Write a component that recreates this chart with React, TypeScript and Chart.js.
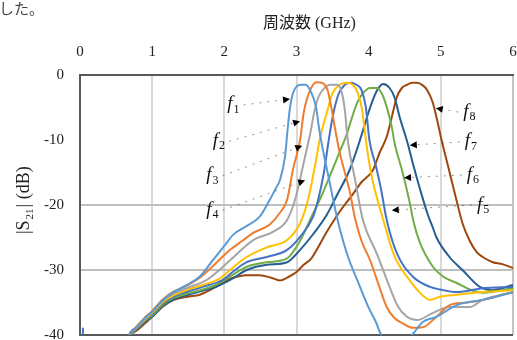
import React, { useEffect, useRef } from "react";
import { Chart, registerables } from "chart.js";

Chart.register(...registerables);

// Frequency axis ticks (GHz) and |S21| axis ticks (dB)
const freqTicks = [0, 1, 2, 3, 4, 5, 6];
const dbTicks = [0, -10, -20, -30, -40];

const seriesNames = ["1", "2", "3", "4", "5", "6", "7", "8"];
const seriesColors = ["#5B9BD5", "#ED7D31", "#A5A5A5", "#FFC000", "#4472C4", "#70AD47", "#255E91", "#9E480E"];

// f1
const f1Freq = [0.68, 0.8, 0.9, 1.0, 1.15, 1.3, 1.5, 1.66, 1.84, 2.0, 2.12, 2.3, 2.49, 2.63, 2.72, 2.77, 2.84, 2.88, 2.91, 2.95, 3.0, 3.05, 3.13, 3.2, 3.27, 3.31, 3.34, 3.45, 3.57, 3.7, 3.88, 4.0, 4.1, 4.16, 4.25, 4.45, 4.6, 4.75, 4.94, 5.22, 5.58, 6.0];
const f1Db = [-40, -38.6, -37.4, -36.4, -34.6, -33.4, -32.2, -31, -28.5, -26.3, -24.6, -23.3, -21.8, -19.2, -17.3, -16.2, -12.6, -8, -5, -2.8, -1.8, -1.5, -1.5, -2.6, -4.9, -8, -10, -16, -22.3, -27.5, -32.6, -35.8, -38, -39.7, -41, -41.5, -40, -38, -37.2, -35.4, -34.6, -33.4];

// f2
const f2Freq = [0.68, 0.8, 0.9, 1.0, 1.15, 1.3, 1.5, 1.66, 1.85, 2.08, 2.25, 2.4, 2.63, 2.77, 2.87, 2.95, 3.05, 3.1, 3.19, 3.28, 3.37, 3.43, 3.49, 3.53, 3.6, 3.67, 3.74, 3.81, 3.9, 4.02, 4.13, 4.25, 4.35, 4.47, 4.61, 4.75, 4.94, 5.12, 5.35, 5.58, 6.0];
const f2Db = [-40, -38.5, -37.3, -36.3, -34.5, -33.3, -32.3, -31.2, -29.3, -26.9, -25.5, -24.3, -23, -21.2, -19.2, -14.6, -10, -5.8, -2.3, -1.1, -1.3, -2.3, -5.4, -8, -12, -15, -18, -22, -25.5, -28.5, -32, -35.7, -37.3, -38.2, -38.9, -38.8, -37.2, -35.4, -35, -34.6, -33.4];

// f3
const f3Freq = [0.68, 0.8, 0.9, 1.0, 1.15, 1.3, 1.5, 1.76, 2.08, 2.4, 2.68, 2.87, 2.98, 3.05, 3.12, 3.19, 3.25, 3.3, 3.37, 3.47, 3.57, 3.63, 3.67, 3.71, 3.81, 3.92, 4.11, 4.29, 4.4, 4.53, 4.67, 4.89, 5.12, 5.4, 5.58, 6.0];
const f3Db = [-40, -38.6, -37.4, -36.4, -34.7, -33.6, -32.7, -31.5, -28.5, -25.4, -24.1, -22.3, -19.2, -16, -12.5, -9, -5.5, -3.5, -2.2, -1.5, -1.5, -2.8, -5.4, -10, -16, -22.3, -27.4, -32.6, -35.5, -37.2, -37.7, -36.6, -35.7, -35.7, -34.6, -33.4];

// f4
const f4Freq = [0.68, 0.8, 0.9, 1.0, 1.15, 1.3, 1.5, 1.7, 1.94, 2.1, 2.31, 2.59, 2.87, 3.05, 3.16, 3.23, 3.28, 3.32, 3.42, 3.5, 3.6, 3.7, 3.78, 3.85, 3.91, 3.95, 4.0, 4.06, 4.13, 4.22, 4.34, 4.45, 4.53, 4.67, 4.85, 4.99, 5.22, 5.58, 6.0];
const f4Db = [-40, -38.7, -37.6, -36.6, -34.9, -33.9, -33, -32.3, -31.3, -29.8, -28, -26.5, -25.4, -22.8, -19.2, -15.5, -12.5, -10, -5.8, -2.8, -1.5, -1.2, -1.5, -2.8, -5.4, -9, -13, -16.5, -19.5, -23, -27.4, -29.8, -31, -33, -34.6, -34.1, -33.8, -33.4, -33.1];

// f5
const f5Freq = [0.04, 0.045, 0.6, 0.68, 0.8, 0.9, 1.0, 1.15, 1.3, 1.5, 1.7, 1.98, 2.15, 2.31, 2.59, 2.87, 3.05, 3.23, 3.3, 3.38, 3.44, 3.5, 3.58, 3.66, 3.75, 3.83, 3.9, 3.96, 4.01, 4.1, 4.17, 4.25, 4.39, 4.61, 4.85, 4.99, 5.22, 5.58, 6.0];
const f5Db = [-38.9, -44, -44, -40, -38.8, -37.7, -36.8, -35.1, -34.1, -33.3, -32.6, -31.5, -30, -28.8, -28, -26.9, -24.9, -21.8, -19.2, -15, -10.5, -6.5, -3, -1.6, -1.2, -1.5, -2.3, -4.9, -10, -14, -17.5, -22.3, -27.4, -31, -32.6, -33, -33.4, -32.8, -32.6];

// f6
const f6Freq = [0.68, 0.8, 0.9, 1.0, 1.15, 1.3, 1.5, 1.7, 1.9, 2.08, 2.31, 2.59, 2.87, 3.05, 3.2, 3.35, 3.5, 3.6, 3.7, 3.77, 3.84, 3.92, 4.02, 4.11, 4.18, 4.25, 4.32, 4.36, 4.47, 4.57, 4.62, 4.71, 4.89, 5.03, 5.22, 5.4, 5.58, 6.0];
const f6Db = [-40, -38.9, -37.8, -37, -35.3, -34.3, -33.6, -33, -32.2, -31, -29.5, -28.8, -28.2, -25.5, -22, -18.5, -14.5, -11.8, -9, -6.5, -4.3, -2.8, -2, -2, -2.8, -4.9, -8, -10.5, -15, -19.7, -22.5, -25.8, -29.5, -31, -32, -33, -33.5, -32.8];

// f7
const f7Freq = [0.68, 0.8, 0.9, 1.0, 1.15, 1.3, 1.5, 1.7, 1.9, 2.1, 2.31, 2.59, 2.87, 3.05, 3.23, 3.42, 3.56, 3.74, 3.88, 4.02, 4.11, 4.2, 4.29, 4.36, 4.43, 4.54, 4.61, 4.71, 4.82, 4.89, 4.94, 5.12, 5.3, 5.54, 5.72, 6.0];
const f7Db = [-40, -39, -38, -37.2, -35.5, -34.5, -33.8, -33.2, -32.5, -31.4, -30, -29.2, -28.8, -26.9, -24.5, -21.5, -18.5, -14.5, -10, -5, -2.5, -1.4, -2, -3.5, -6.5, -10.5, -13.5, -17.5, -21.5, -23.5, -25, -28, -30, -32.6, -33.1, -32.3];

// f8
const f8Freq = [0.68, 0.8, 0.9, 1.0, 1.15, 1.3, 1.5, 1.66, 1.85, 2.0, 2.12, 2.3, 2.49, 2.65, 2.77, 2.9, 3.0, 3.1, 3.2, 3.3, 3.4, 3.5, 3.6, 3.75, 3.9, 4.06, 4.15, 4.25, 4.32, 4.39, 4.46, 4.53, 4.6, 4.67, 4.75, 4.81, 4.89, 4.95, 5.01, 5.1, 5.2, 5.3, 5.4, 5.5, 5.58, 5.72, 5.85, 6.0];
const f8Db = [-40, -39.2, -38.2, -37.2, -35.6, -34.6, -34.1, -33.8, -32.8, -31.8, -31.2, -30.8, -30.8, -31.2, -31.6, -31, -30.3, -29.2, -28.3, -26.5, -24.5, -22.7, -21, -18.8, -16.5, -14.6, -12, -9.5, -6.5, -3.4, -2.0, -1.5, -1.2, -1.2, -1.6, -2.3, -4.3, -7, -10, -14, -18.5, -22.8, -25.5, -27.3, -28, -28.8, -29.1, -29.7];

const seriesFreq = [f1Freq, f2Freq, f3Freq, f4Freq, f5Freq, f6Freq, f7Freq, f8Freq];
const seriesDb = [f1Db, f2Db, f3Db, f4Db, f5Db, f6Db, f7Db, f8Db];

// Callout labels: label position and arrow tip, in (GHz, dB)
const calloutLabelFreq = [2.04, 1.84, 1.75, 1.75, 5.5, 5.36, 5.33, 5.31];
const calloutLabelDb = [-4.6, -10.2, -15.5, -20.8, -20.0, -15.4, -10.3, -5.7];
const calloutTipFreq = [2.91, 3.05, 3.08, 3.12, 4.32, 4.49, 4.57, 4.93];
const calloutTipDb = [-3.7, -7.1, -10.9, -16.2, -20.8, -15.8, -10.8, -5.1];

const noteText = "した。";
const xTitleMain = "周波数";
const xTitleUnit = " (GHz)";
const yTitleHead = "|S";
const yTitleSub = "21";
const yTitleTail = "| (dB)";

const serif = '"Liberation Serif", "Times New Roman", serif';
const cjk = '"Noto Sans CJK JP", "Noto Sans CJK SC", sans-serif';

const overlayPlugin = {
  id: "overlay",
  afterDraw(chart: any) {
    const ctx = chart.ctx as CanvasRenderingContext2D;
    const xs = chart.scales.x;
    const ys = chart.scales.y;
    ctx.save();

    // sentence fragment above the figure
    ctx.fillStyle = "#444";
    ctx.font = `15px ${cjk}`;
    ctx.textAlign = "right";
    ctx.textBaseline = "middle";
    ctx.fillText(noteText, 44, 8);

    // frequency axis title
    ctx.fillStyle = "#222";
    ctx.textAlign = "left";
    ctx.textBaseline = "alphabetic";
    ctx.font = `16px ${cjk}`;
    const tx = 263;
    ctx.fillText(xTitleMain, tx, 28);
    const w1 = ctx.measureText(xTitleMain).width;
    ctx.font = `16px ${serif}`;
    ctx.fillText(xTitleUnit, tx + w1, 28);

    // |S21| axis title, rotated
    ctx.save();
    ctx.translate(29, 234);
    ctx.rotate(-Math.PI / 2);
    ctx.font = `18px ${serif}`;
    ctx.fillText(yTitleHead, 0, 0);
    let px = ctx.measureText(yTitleHead).width;
    ctx.font = `11px ${serif}`;
    ctx.fillText(yTitleSub, px + 1, 4);
    px += ctx.measureText(yTitleSub).width + 2;
    ctx.font = `18px ${serif}`;
    ctx.fillText(yTitleTail, px, 0);
    ctx.restore();

    // callouts
    for (let i = 0; i < seriesNames.length; i++) {
      const lx = xs.getPixelForValue(calloutLabelFreq[i]);
      const ly = ys.getPixelForValue(calloutLabelDb[i]);
      const tipX = xs.getPixelForValue(calloutTipFreq[i]);
      const tipY = ys.getPixelForValue(calloutTipDb[i]);

      ctx.fillStyle = "#111";
      ctx.font = `italic 19px ${serif}`;
      ctx.textAlign = "left";
      ctx.textBaseline = "alphabetic";
      ctx.fillText("f", lx, ly + 4.5);
      const fw = ctx.measureText("f").width;
      ctx.font = `12px ${serif}`;
      ctx.fillText(seriesNames[i], lx + fw + 1, ly + 8);
      const labelW = fw + 1 + ctx.measureText(seriesNames[i]).width;

      const onLeft = tipX > lx;
      const sx = onLeft ? lx + labelW + 4 : lx - 5;
      const sy = ly;
      const ang = Math.atan2(tipY - sy, tipX - sx);
      const len = 7;
      const bx = tipX - Math.cos(ang) * len;
      const by = tipY - Math.sin(ang) * len;

      ctx.strokeStyle = "rgba(60,60,60,0.55)";
      ctx.lineWidth = 1;
      ctx.setLineDash([2, 6]);
      ctx.beginPath();
      ctx.moveTo(sx, sy);
      ctx.lineTo(bx, by);
      ctx.stroke();
      ctx.setLineDash([]);

      ctx.fillStyle = "#000";
      ctx.beginPath();
      ctx.moveTo(tipX, tipY);
      ctx.lineTo(bx + Math.sin(ang) * 3.5, by - Math.cos(ang) * 3.5);
      ctx.lineTo(bx - Math.sin(ang) * 3.5, by + Math.cos(ang) * 3.5);
      ctx.closePath();
      ctx.fill();
    }
    ctx.restore();
  },
};

export default function App() {
  const canvasRef = useRef<HTMLCanvasElement | null>(null);

  useEffect(() => {
    const canvas = canvasRef.current;
    if (!canvas) return;
    const datasets = seriesNames.map((name, i) => ({
      label: "f" + name,
      data: seriesFreq[i].map((f, j) => ({ x: f, y: seriesDb[i][j] })),
      borderColor: seriesColors[i],
      backgroundColor: seriesColors[i],
      borderWidth: 2,
      pointRadius: 0,
      fill: false,
      cubicInterpolationMode: "monotone" as const,
    }));

    const chart = new Chart(canvas, {
      type: "line",
      data: { datasets },
      options: {
        responsive: false,
        animation: false,
        layout: { padding: { left: 0, top: 0, right: 4, bottom: 5 } },
        plugins: { legend: { display: false }, tooltip: { enabled: false } },
        scales: {
          x: {
            type: "linear",
            position: "top",
            min: freqTicks[0],
            max: freqTicks[freqTicks.length - 1],
            afterBuildTicks: (s: any) => {
              s.ticks = freqTicks.map((v) => ({ value: v }));
            },
            ticks: {
              color: "#222",
              font: { family: serif, size: 15 },
              padding: 14,
              maxRotation: 0,
            },
            grid: {
              drawTicks: false,
              color: (c: any) => {
                const v = c.tick?.value;
                if (v === 0 || v === 4) return "rgba(0,0,0,0)";
                if (v === 6) return "#c4c4c4";
                return "#d9d9d9";
              },
              lineWidth: 2,
            },
            border: { color: "#595959", width: 2 },
            afterFit: (s: any) => {
              s.height = 75;
              s.paddingLeft = 0;
              s.paddingRight = 0;
            },
          },
          y: {
            type: "linear",
            min: dbTicks[dbTicks.length - 1],
            max: dbTicks[0],
            afterBuildTicks: (s: any) => {
              s.ticks = dbTicks.slice().reverse().map((v) => ({ value: v }));
            },
            ticks: {
              color: "#222",
              font: { family: serif, size: 15 },
              padding: 16,
            },
            grid: {
              drawTicks: false,
              color: (c: any) => {
                const v = c.tick?.value;
                if (v === -40) return "#595959";
                if (v === 0 || v === -10) return "rgba(0,0,0,0)";
                return "#bfbfbf";
              },
              lineWidth: 2,
            },
            border: { color: "#595959", width: 2 },
            afterFit: (s: any) => {
              s.width = 80;
              s.paddingTop = 0;
              s.paddingBottom = 0;
            },
          },
        },
      },
      plugins: [overlayPlugin],
    });
    return () => chart.destroy();
  }, []);

  return (
    <div style={{ position: "fixed", left: 0, top: 0, width: 517, height: 340, background: "#fff" }}>
      <canvas ref={canvasRef} width={517} height={340} style={{ display: "block" }} />
    </div>
  );
}
